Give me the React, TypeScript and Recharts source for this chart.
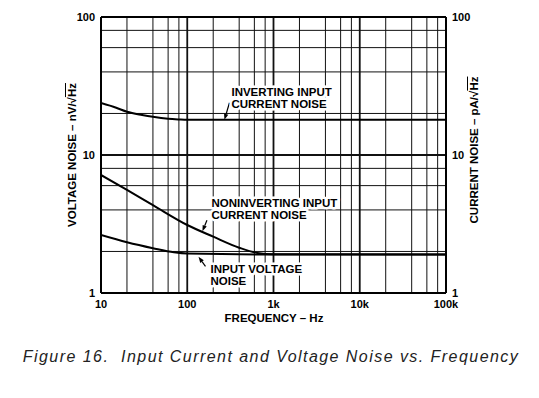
import { LineChart, Line, XAxis, YAxis, ReferenceLine, ReferenceDot } from "recharts"

// inverting input current noise (pA/rtHz)
const invFreq = [10, 15, 20, 30, 40, 60, 80, 100, 1000, 100000]
const invNoise = [23.8, 22, 20.6, 19.5, 18.9, 18.3, 18.1, 18, 18, 18]

// noninverting input current noise (pA/rtHz)
const nonInvFreq = [10, 20, 40, 100, 200, 400, 650, 1000, 100000]
const nonInvNoise = [7.16, 5.58, 4.33, 3.11, 2.56, 2.13, 1.95, 1.91, 1.9]

// input voltage noise (nV/rtHz)
const voltFreq = [10, 20, 40, 70, 100, 1000, 100000]
const voltNoise = [2.63, 2.33, 2.11, 1.97, 1.93, 1.9, 1.9]

const xTicks = [10, 100, 1000, 10000, 100000]
const xTickLabels = ["10", "100", "1k", "10k", "100k"]
const yTicks = [1, 10, 100]
const gridSteps = [2, 4, 6, 8]

const toRows = (f: number[], v: number[]) => f.map((x, i) => ({ f: x, v: v[i] }))

const invData = toRows(invFreq, invNoise)
const nonInvData = toRows(nonInvFreq, nonInvNoise)
const voltData = toRows(voltFreq, voltNoise)

const gridX = xTicks.slice(0, -1).flatMap((d) => gridSteps.map((s) => d * s))
const decadeX = xTicks.slice(1, -1)
const gridY = yTicks.slice(0, -1).flatMap((d) => gridSteps.map((s) => d * s))
const decadeY = yTicks.slice(1, -1)

const font = "'Liberation Sans', Arial, Helvetica, sans-serif"
const tickStyle = { fontSize: 11, fontWeight: 700, fill: "#000", fontFamily: font }

function Callout(props: any) {
  const { cx, cy, lines, tail, text } = props
  if (cx == null || cy == null) return null
  const [tx, ty] = tail
  // arrowhead pointing from tail to (cx, cy)
  const ang = Math.atan2(-ty, -tx)
  const len = 6
  const w = 2.2
  const bx = cx + Math.cos(ang + Math.PI) * len
  const by = cy + Math.sin(ang + Math.PI) * len
  const px = -Math.sin(ang) * w
  const py = Math.cos(ang) * w
  return (
    <g>
      <line x1={cx + tx} y1={cy + ty} x2={bx} y2={by} stroke="#000" strokeWidth={1.2} />
      <polygon points={`${cx},${cy} ${bx + px},${by + py} ${bx - px},${by - py}`} fill="#000" />
      {lines.map((s: string, i: number) => (
        <text
          key={i}
          x={cx + text[0]}
          y={cy + text[1] + i * 12}
          fontFamily={font}
          fontSize={11.5}
          fontWeight={700}
          fill="#000"
          stroke="#fff"
          strokeWidth={5}
          paintOrder="stroke"
          strokeLinejoin="round"
        >
          {s}
        </text>
      ))}
    </g>
  )
}

const titleStyle: React.CSSProperties = {
  position: "absolute",
  fontFamily: font,
  fontWeight: 700,
  fontSize: 11.5,
  whiteSpace: "nowrap",
  color: "#000",
}

export default function App() {
  return (
    <div style={{ position: "absolute", left: 0, top: 0, width: 539, height: 398, background: "#fff" }}>
      <LineChart width={539} height={398} margin={{ top: 17, left: 61, right: 53, bottom: 75 }}>
        <XAxis
          dataKey="f"
          type="number"
          scale="log"
          domain={[10, 100000]}
          allowDataOverflow
          ticks={xTicks}
          tickFormatter={(v: number) => xTickLabels[xTicks.indexOf(v)]}
          tick={tickStyle}
          tickLine={false}
          axisLine={false}
          tickSize={5}
          tickMargin={2}
          height={30}
          interval={0}
        />
        <YAxis
          yAxisId="left"
          type="number"
          scale="log"
          domain={[1, 100]}
          allowDataOverflow
          ticks={yTicks}
          tick={tickStyle}
          tickLine={false}
          axisLine={false}
          tickSize={4}
          tickMargin={2}
          width={40}
          interval={0}
        />
        <YAxis
          yAxisId="right"
          orientation="right"
          type="number"
          scale="log"
          domain={[1, 100]}
          allowDataOverflow
          ticks={yTicks}
          tick={{ ...tickStyle, textAnchor: "start" }}
          tickLine={false}
          axisLine={false}
          tickSize={4}
          tickMargin={2}
          width={40}
          interval={0}
        />
        {gridX.map((x) => (
          <ReferenceLine key={"gx" + x} x={x} yAxisId="left" stroke="#111" strokeWidth={1} />
        ))}
        {decadeX.map((x) => (
          <ReferenceLine key={"dx" + x} x={x} yAxisId="left" stroke="#111" strokeWidth={1.8} />
        ))}
        {gridY.map((y) => (
          <ReferenceLine key={"gy" + y} y={y} yAxisId="left" stroke="#111" strokeWidth={1} />
        ))}
        {decadeY.map((y) => (
          <ReferenceLine key={"dy" + y} y={y} yAxisId="left" stroke="#111" strokeWidth={1.8} />
        ))}
        <ReferenceLine x={10} yAxisId="left" stroke="#000" strokeWidth={2} />
        <ReferenceLine x={100000} yAxisId="left" stroke="#000" strokeWidth={2} />
        <ReferenceLine y={1} yAxisId="left" stroke="#000" strokeWidth={2} />
        <ReferenceLine y={100} yAxisId="left" stroke="#000" strokeWidth={2} />
        <Line data={invData} dataKey="v" yAxisId="left" type="monotone" stroke="#000" strokeWidth={2} dot={false} isAnimationActive={false} />
        <Line data={nonInvData} dataKey="v" yAxisId="left" type="monotone" stroke="#000" strokeWidth={2} dot={false} isAnimationActive={false} />
        <Line data={voltData} dataKey="v" yAxisId="left" type="monotone" stroke="#000" strokeWidth={2} dot={false} isAnimationActive={false} />
        <ReferenceDot
          x={270}
          y={18}
          yAxisId="left"
          shape={(p: any) => (
            <Callout {...p} lines={["INVERTING INPUT", "CURRENT NOISE"]} tail={[5, -17]} text={[7, -24]} />
          )}
        />
        <ReferenceDot
          x={150}
          y={2.8}
          yAxisId="left"
          shape={(p: any) => (
            <Callout {...p} lines={["NONINVERTING INPUT", "CURRENT NOISE"]} tail={[4.5, -11]} text={[9, -24]} />
          )}
        />
        <ReferenceDot
          x={135}
          y={1.83}
          yAxisId="left"
          shape={(p: any) => (
            <Callout {...p} lines={["INPUT VOLTAGE", "NOISE"]} tail={[7, 9.5]} text={[12, 16.6]} />
          )}
        />
      </LineChart>
      <div style={{ ...titleStyle, left: 72, top: 155, transform: "translate(-50%, -50%) rotate(-90deg)" }}>
        VOLTAGE NOISE – nV/√<span style={{ textDecoration: "overline" }}>Hz</span>
      </div>
      <div style={{ ...titleStyle, left: 474, top: 150, transform: "translate(-50%, -50%) rotate(-90deg)" }}>
        CURRENT NOISE – pA/√<span style={{ textDecoration: "overline" }}>Hz</span>
      </div>
      <div style={{ ...titleStyle, left: 274, top: 318, transform: "translate(-50%, -50%)" }}>FREQUENCY – Hz</div>
      <div
        style={{
          position: "absolute",
          left: 271,
          top: 357,
          transform: "translate(-50%, -50%)",
          fontFamily: font,
          fontStyle: "italic",
          fontSize: 16,
          letterSpacing: 1.45,
          color: "#222",
          whiteSpace: "pre",
        }}
      >
        {"Figure 16.  Input Current and Voltage Noise vs. Frequency"}
      </div>
    </div>
  )
}
